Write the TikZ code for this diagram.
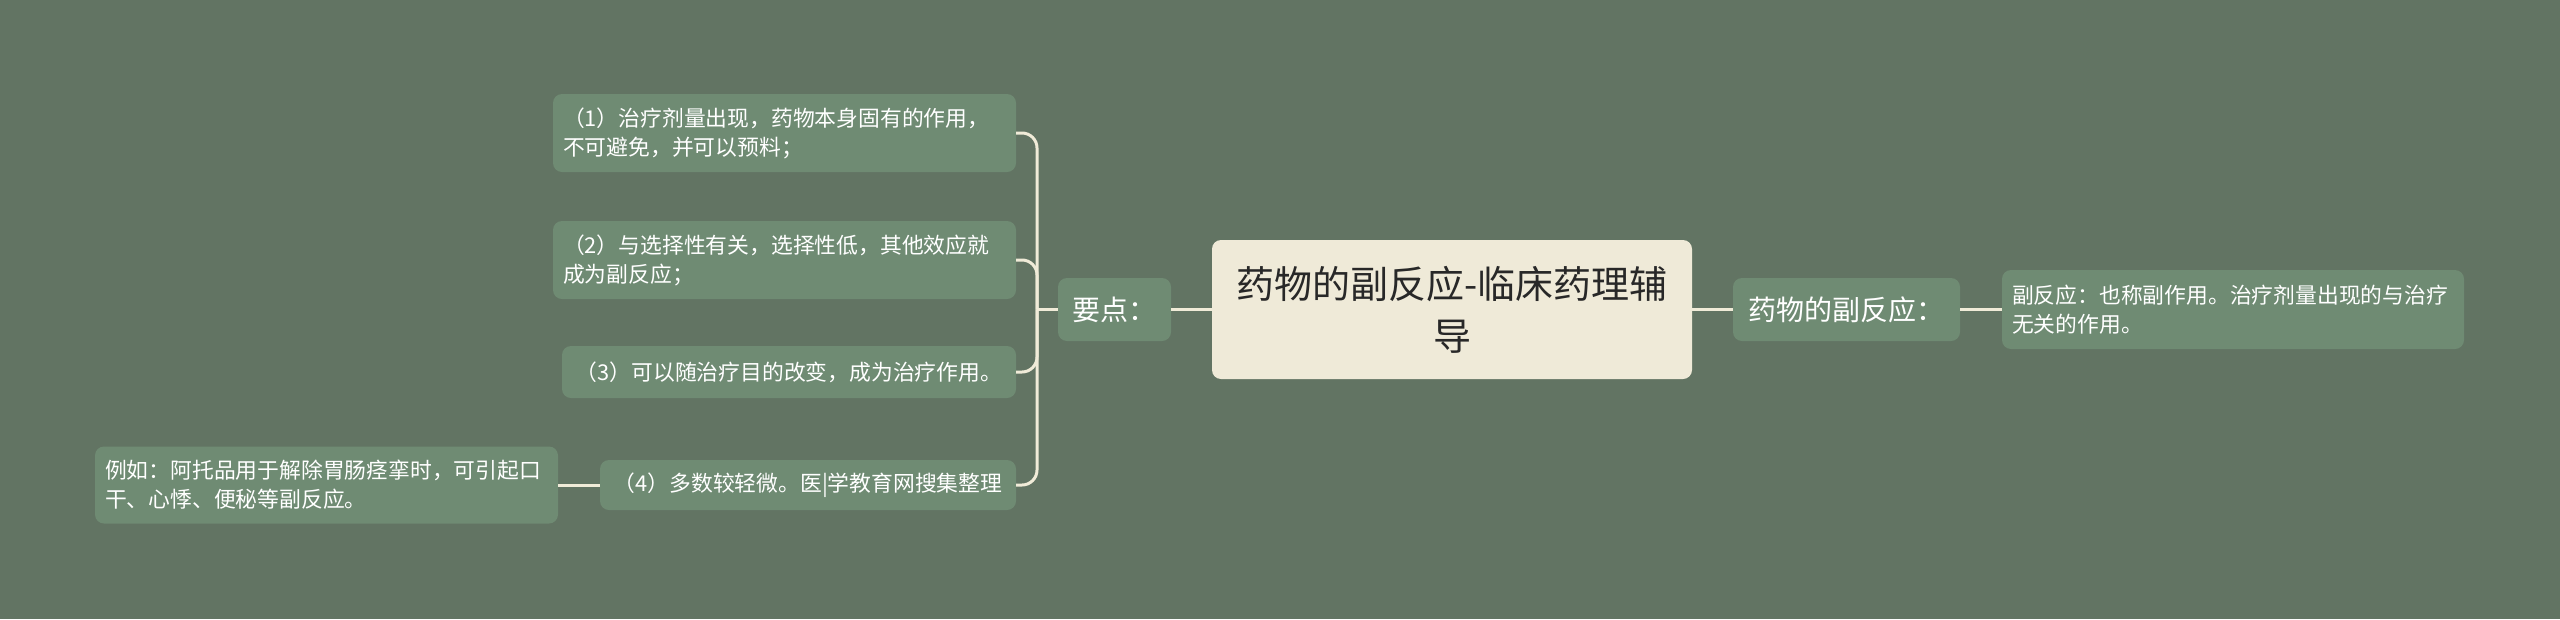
\documentclass[tikz,border=0pt]{standalone}
\usepackage{fontspec}
\setmainfont{Noto Sans CJK SC}
\definecolor{bg}{RGB}{98,116,99}
\definecolor{nodefill}{RGB}{111,139,115}
\definecolor{centerfill}{RGB}{239,234,216}
\definecolor{centertext}{RGB}{40,40,40}
\definecolor{linec}{RGB}{240,235,216}
\begin{document}
\begin{tikzpicture}[x=1pt,y=-1pt,
  box/.style={rounded corners=9pt, fill=nodefill, text=white, inner ysep=0pt, inner xsep=10pt, align=left},
  small/.style={font=\fontsize{21.8}{29}\selectfont},
  mid/.style={font=\fontsize{28}{34}\selectfont},
  conn/.style={draw=linec, line width=3pt}]
\fill[bg] (0,0) rectangle (2560,619);
\useasboundingbox (0,0) rectangle (2560,619);

\node[fill=centerfill, rounded corners=9pt, minimum width=480pt, minimum height=139pt, align=center, text=centertext, font=\fontsize{38}{52}\selectfont, inner sep=0pt] (c) at (1452,309.5) {药物的副反应-临床药理辅\\导};

\node[box, mid, align=center, text width=93pt, minimum height=63pt] (yd) at (1114.5,309.5) {要点：};
\node[box, mid, align=center, text width=207pt, minimum height=63pt] (fy) at (1846.5,309.5) {药物的副反应：};
\node[box, small, text width=442pt, minimum height=79pt] (r1) at (2233,309.5) {副反应：也称副作用。治疗剂量出现的与治疗\\无关的作用。};

\node[box, small, text width=443pt, minimum height=78pt] (l1) at (784.5,133) {（1）治疗剂量出现，药物本身固有的作用，\\不可避免，并可以预料；};
\node[box, small, text width=443pt, minimum height=78pt] (l2) at (784.5,260) {（2）与选择性有关，选择性低，其他效应就\\成为副反应；};
\node[box, small, align=center, text width=434pt, minimum height=52pt] (l3) at (789,372) {（3）可以随治疗目的改变，成为治疗作用。};
\node[box, small, align=center, text width=396pt, minimum height=50pt] (l4) at (808,485) {（4）多数较轻微。医|学教育网搜集整理};
\node[box, small, text width=443pt, minimum height=77pt] (ex) at (326.5,485) {例如：阿托品用于解除胃肠痉挛时，可引起口\\干、心悸、便秘等副反应。};

\coordinate (t) at (1037,309.5);
\draw[conn] (c.west) -- (yd.east);
\draw[conn] (yd.west) -- (t);
\draw[conn, rounded corners=15pt] (t) |- (l1.east);
\draw[conn, rounded corners=15pt] (t) |- (l2.east);
\draw[conn, rounded corners=15pt] (t) |- (l3.east);
\draw[conn, rounded corners=15pt] (t) |- (l4.east);
\draw[conn] (l4.west) -- (ex.east);
\draw[conn] (c.east) -- (fy.west);
\draw[conn] (fy.east) -- (r1.west);
\end{tikzpicture}
\end{document}
